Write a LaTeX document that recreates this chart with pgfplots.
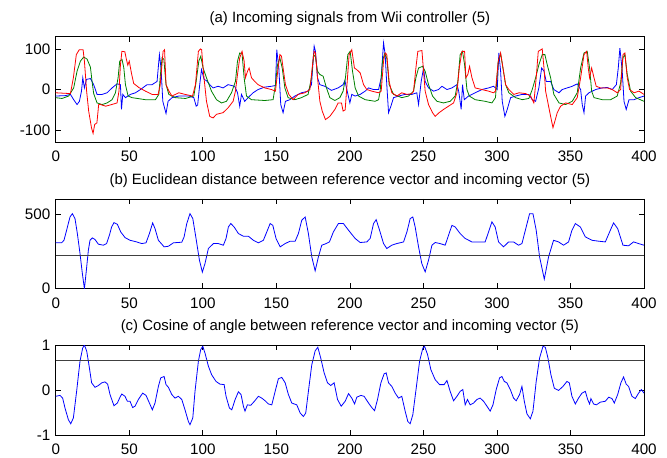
\documentclass[border=0pt]{standalone}
\usepackage{pgfplots}
\pgfplotsset{compat=1.18}
\usepackage{fontspec}
\setmainfont{Liberation Sans}
\definecolor{mblue}{rgb}{0,0,1}
\definecolor{mgreen}{rgb}{0,0.5,0}
\definecolor{mred}{rgb}{1,0,0}
\pgfplotsset{
  mstyle/.style={
    scale only axis,
    width=441.2pt,
    xmin=0, xmax=400,
    xtick={0,50,...,400},
    tick align=inside,
    tick pos=both,
    major tick length=4pt,
    axis line style={line width=0.6pt},
    every tick/.style={black, line width=0.5pt},
    font=\fontsize{11.4}{13.5}\selectfont,
    /pgf/number format/assume math mode=true,
    xticklabel style={yshift=-3.2pt},
    yticklabel style={xshift=-0.5pt},
    title style={at={(0.5,1)}, anchor=base, yshift=5pt, font=\fontsize{11.2}{13}\selectfont},
    anchor=south west,
  },
  sig/.style={line width=0.6pt, mark=none},
}
\begin{document}
\begin{tikzpicture}
\useasboundingbox (0,0) rectangle (500.25pt,342.75pt);
% Panel (a)
\begin{axis}[mstyle, at={(41.8pt,236pt)}, height=79.2pt,
  ymin=-130, ymax=130, ytick={-100,0,100}, yticklabels={-100,0,100},
  title={(a) Incoming signals from Wii controller (5)}]
\addplot[sig, mblue] coordinates {
(0,-16)(6.6,-15)(10,-12)(12.2,-25)(14.5,-37)(16.1,-29)(17.5,-4)(18.4,29)(19.5,4)(20.9,25)
(23.6,27)(25.8,12)(28.1,-12)(31.5,-12)(34.9,-8)(38.3,4)(41.7,14)(44,12)(44.7,-49)(45.6,-12)
(47.4,-20)(50.8,-12)(54.2,-8)(57.6,0)(62.1,12)(65.5,12)(68.9,20)(70.5,86)(71.6,53)(72.8,-29)
(75,-59)(76.4,-29)(79.1,-20)(83.7,-16)(90.5,-16)(93.9,-20)(95.5,-41)(96.5,-38)(97.9,12)(99.1,49)
(100.9,25)(102.5,22)(104.7,12)(107,4)(110.4,8)(113.8,4)(117.2,12)(121.7,8)(123.6,-8)(125.1,-41)
(126.3,-12)(128.5,-29)(130.8,-20)(134.2,-8)(137.6,0)(142.1,6)(146.7,8)(149.4,10)(150.3,98)(151.7,53)
(153,-37)(154.6,-57)(156.2,-29)(159.2,-25)(162.6,-16)(167.1,-8)(171.6,-4)(173.9,12)(175.7,107)(176.6,94)
(178,29)(179.6,12)(183,8)(187.5,-2)(192,4)(195.4,12)(196.6,22)(198.2,-4)(200,-33)(201.3,-12)
(203.6,-16)(207,-12)(210.4,-4)(212.7,4)(216.1,0)(219.5,0)(221.3,29)(222.9,115)(224,86)(225.1,12)
(226.3,-57)(227.9,-41)(229.7,-20)(233.1,-16)(237.6,-12)(242.2,-12)(245.5,-8)(246.7,-37)(248.5,20)(250.1,53)
(251.2,20)(253.5,4)(256.9,-4)(260.3,0)(262.6,8)(266,0)(269.4,4)(272.8,12)(274,-4)(275.7,-49)
(276.6,12)(277.8,-25)(280.7,-16)(285.2,-8)(289.8,0)(294.3,4)(297.7,8)(299,4)(300.2,0)(301.3,90)
(302.5,45)(303.6,-29)(305.4,-66)(307,-49)(309.3,-20)(312.7,-16)(317.2,-12)(321.7,-12)(324,-25)(326.3,-29)
(328.5,4)(330.4,53)(332,45)(333.5,20)(336.5,20)(338.7,0)(342.2,-8)(344.4,0)(347.8,4)(351.2,8)
(354.6,14)(356.9,0)(358,-37)(359.2,-57)(360.3,-16)(362.6,-8)(367.1,0)(371.6,4)(375,5)(378.4,0)
(381.2,12)(382.5,53)(383.6,102)(385.2,45)(386.4,-29)(387.9,-49)(389.8,-25)(393.2,-25)(396.6,-20)(400,-16)
};
\addplot[sig, mgreen] coordinates {
(0,-20)(4.3,-22)(8.8,-16)(12.2,4)(14.5,45)(16.8,70)(19,80)(21.3,75)(23.6,55)(24.7,20)
(25.8,-10)(28.1,-33)(31.5,-37)(34.9,-33)(38.3,-25)(40.6,-8)(42.4,29)(43.5,70)(45.1,74)(46.3,53)
(47.4,12)(49.2,-16)(51.9,-20)(61,-25)(67.8,-25)(70.1,-12)(71.2,37)(72.3,78)(73.5,75)(75,12)
(76.9,-12)(81.4,-20)(88.2,-22)(93.9,-16)(95.5,20)(97.3,70)(98.6,82)(100.2,53)(102.5,29)(105.9,-4)
(109.3,-25)(112.7,-33)(116.1,-29)(119.5,-8)(122.2,20)(123.6,70)(125.1,90)(126.7,88)(128.1,29)(129.7,-16)
(133.1,-25)(142.1,-27)(147.8,-25)(149.4,12)(150.8,61)(152.4,78)(154,53)(155.8,4)(158,-20)(162.6,-25)
(167.1,-20)(171.6,-12)(173.9,29)(175.3,86)(176.6,80)(178,45)(179.6,37)(181.8,33)(184.1,4)(186.4,-20)
(189.8,-27)(193.2,-20)(195.4,-4)(197,29)(198.6,86)(200.2,94)(201.8,45)(203.6,4)(205.9,-16)(210.4,-25)
(217.2,-29)(219.5,-25)(220.6,-4)(222.2,70)(223.6,88)(225.1,78)(226.7,12)(229.7,-12)(235.3,-20)(239.9,-16)
(243.3,-4)(244.9,29)(246.7,53)(249.4,57)(251.2,45)(253.5,12)(256.2,-16)(259.2,-29)(263.7,-33)(268.2,-29)
(271.6,-16)(273.4,20)(275,86)(276.6,94)(278,61)(279.6,0)(281.2,-16)(285.2,-25)(292,-29)(296.6,-33)
(299,-20)(300.9,70)(302.5,88)(304.1,53)(305.9,12)(308.1,-8)(312.7,-20)(317.2,-25)(321.7,-22)(324,0)
(326.3,29)(328.5,61)(330.8,86)(332.6,86)(334.2,61)(336.5,29)(338.7,-12)(342.2,-33)(346.7,-37)(351.2,-29)
(354.6,-8)(356.9,53)(359.2,90)(361.4,94)(363,53)(364.4,-4)(366,-20)(371.6,-25)(377.3,-25)(381.8,-16)
(384.1,16)(385.7,78)(387,86)(388.6,37)(390.9,-4)(394.3,-20)(400,-29)
};
\addplot[sig, mred] coordinates {
(0,-8)(5,-9)(10,-10)(12,29)(14,86)(16,98)(18.6,98)(19.5,70)(21,-4)(22.4,-53)
(24.3,-94)(25.4,-108)(26.5,-86)(28,-82)(29.2,-37)(30.4,-37)(34,-41)(38,-37)(41.7,-33)(43,-4)
(44,61)(45,94)(47,93)(48,75)(49,60)(50,70)(51.5,40)(53,15)(56.5,5)(61,-4)
(65.5,-12)(69.6,-12)(71,10)(73,94)(74,98)(75,12)(77,-4)(79,-16)(83.7,-8)(88,-12)
(93,-16)(95,12)(97,94)(98.4,100)(99.2,98)(100.5,40)(102.5,-29)(104.7,-66)(107,-70)(109.3,-61)
(113.8,-57)(117.2,-45)(120.6,-29)(122.2,-4)(123.6,37)(125.1,78)(126.7,94)(128.1,70)(129,29)(130.4,45)
(131.5,53)(133.1,29)(135.3,20)(137.6,12)(142.1,4)(146.7,0)(149.4,-4)(151.2,53)(152.4,86)(153.5,82)
(154.6,53)(156.2,12)(158.5,-12)(161.4,-25)(164.8,-12)(169.4,-8)(172.8,0)(174.4,53)(175.7,94)(176.6,90)
(178,29)(179.6,-29)(181.2,-53)(183.4,-74)(186.4,-66)(189.8,-49)(192,-33)(194.3,-33)(195.4,-53)(196.8,-50)
(198.2,20)(199.5,86)(201.3,98)(203.1,53)(204.7,49)(207,41)(209.3,12)(211.5,0)(215,-4)(219.5,-8)
(221.3,-4)(222.9,70)(224,90)(225.1,86)(226.7,20)(228.5,-8)(232,-16)(235.3,-8)(238.7,-12)(242.2,-10)
(243.3,-4)(244.9,53)(246.2,94)(249,96)(250.1,45)(251.2,-4)(253.5,-37)(256.2,-57)(258,-66)(260.7,-57)
(263.7,-49)(267.1,-41)(270.5,-33)(272.8,-8)(274.4,53)(276.2,94)(278,94)(278.9,29)(280.2,37)(281.4,57)
(283,29)(285.2,4)(289.8,0)(294.3,-4)(297.7,-8)(299,-4)(300.9,70)(302.5,90)(304.1,53)(305.9,12)
(308.1,0)(311.5,-12)(315,-8)(319.5,-10)(322.9,-16)(325.1,-33)(326.7,29)(328.1,94)(330.8,100)(332,53)
(333.1,-4)(334.9,-37)(336.5,-66)(338.1,-94)(339.4,-78)(341,-57)(343.3,-41)(346.7,-33)(351.2,-37)(354.6,-20)
(356.9,29)(359.2,86)(361,94)(362.1,53)(363,29)(364.4,53)(366,29)(367.5,8)(370.5,4)(375,4)
(378.4,0)(381.8,-8)(384.1,0)(385.7,86)(387,90)(388.6,29)(390.2,0)(393.2,-8)(396.6,-4)(400,-12)
};
\end{axis}
% Panel (b)
\begin{axis}[mstyle, at={(41.8pt,126.2pt)}, height=67.3pt,
  ymin=0, ymax=600, ytick={0,500}, yticklabels={0,500},
  title={(b) Euclidean distance between reference vector and incoming vector (5)}]
\addplot[sig, mblue] coordinates {
(0,307)(4,307)(5.6,324)(7.4,391)(9.7,480)(11.3,502)(13.1,469)(14.7,369)(16.5,236)(18.1,102)
(19.5,0)(20.6,102)(22.2,258)(23.3,324)(24.9,340)(26.7,329)(29,298)(32.4,291)(34.6,302)(36.5,358)
(38,413)(39.6,442)(41.9,431)(44.2,380)(47.1,342)(50.5,324)(55,313)(58.5,302)(61.4,307)(63.7,369)
(65.9,440)(67.5,402)(69.8,324)(73.7,280)(76.6,284)(80,307)(85.7,311)(87.3,347)(89.1,436)(91.3,502)
(93.2,469)(95.4,336)(97.7,191)(99.7,111)(101.5,169)(103.8,269)(107.2,302)(110.6,302)(114,291)(115.8,336)
(117.4,413)(119,436)(121.3,413)(124.2,369)(127.6,351)(131,351)(134.4,324)(137.8,307)(141.2,324)(143.5,380)
(145.8,436)(147.6,424)(149.8,336)(152.6,280)(156,302)(159.4,318)(162.8,318)(165,369)(167.3,458)(169.6,480)
(171.8,369)(174.1,213)(176.4,120)(178.6,213)(180.9,291)(183.9,302)(186.1,313)(188.8,380)(192.2,436)(195.6,436)
(199.1,391)(203.6,336)(207,309)(211.5,313)(213.8,336)(216.1,436)(217.9,462)(220.2,391)(222.9,302)(225.1,269)
(228.5,291)(231.9,302)(236.5,313)(238.8,380)(241,469)(242.8,480)(244.4,413)(246.7,280)(248.9,169)(251.2,113)
(253.5,191)(255.8,291)(258,309)(261.4,302)(264.8,291)(267.1,358)(269.4,424)(271.6,413)(275,369)(278.4,336)
(283,313)(287.5,313)(292,313)(294.3,380)(296.6,447)(298.8,413)(301.1,313)(304.5,280)(307.9,313)(311.3,313)
(314.7,291)(317,302)(319.9,413)(322.2,502)(324.5,502)(326.7,391)(329,213)(332.2,64)(335.1,213)(338.5,324)
(341.9,313)(345.3,291)(348.7,313)(351,391)(353.3,436)(356.7,413)(360.1,347)(364.6,324)(369.1,318)(373.7,313)
(377.1,391)(379.3,440)(382.1,402)(385.7,291)(389.5,287)(392.9,313)(396.3,302)(400,291)
};
\addplot[line width=0.6pt, black!75] coordinates {(0,220)(400,220)};
\end{axis}
% Panel (c)
\begin{axis}[mstyle, at={(41.8pt,16.5pt)}, height=67.5pt,
  ymin=-1, ymax=1, ytick={-1,0,1}, yticklabels={-1,0,1},
  title={(c) Cosine of angle between reference vector and incoming vector (5)}]
\addplot[sig, mblue] coordinates {
(0,-0.14)(2.9,-0.12)(4.7,-0.18)(6.3,-0.4)(8.6,-0.66)(10.2,-0.75)(12,-0.62)(14.2,-0.03)(16.5,0.64)(18.3,0.93)
(19.5,1.0)(21.1,0.86)(22.9,0.49)(24.4,0.16)(26.7,0.06)(29,0.1)(31.3,0.16)(33.5,0.18)(35.3,0.13)(36.9,-0.1)
(39.6,-0.35)(41.9,-0.29)(43.7,-0.16)(44.9,-0.09)(47.1,-0.14)(48.7,-0.25)(50.5,-0.25)(52.3,-0.39)(53.9,-0.36)(56.2,-0.21)
(59.1,-0.07)(61.4,-0.12)(63.7,-0.29)(65.7,-0.44)(67.5,-0.29)(69.8,0.08)(71.4,0.27)(73.7,0.3)(75,0.12)(76.6,0.06)
(78.9,-0.1)(81.1,-0.18)(83.4,-0.14)(85.7,-0.21)(87.9,-0.44)(90.2,-0.7)(91.3,-0.77)(93.2,-0.62)(94.7,-0.03)(97,0.64)
(98.6,0.9)(100,0.97)(101.5,0.82)(103.8,0.53)(106,0.34)(109,0.19)(111.7,0.13)(114.5,0.12)(115.8,-0.14)(118.1,-0.4)
(119.7,-0.44)(122,-0.21)(124.2,-0.04)(126,-0.1)(127.6,-0.36)(128.7,-0.47)(130.3,-0.33)(132.6,-0.34)(135.1,-0.25)(137.8,-0.14)
(140.1,-0.18)(142.4,-0.24)(144.6,-0.31)(146.9,-0.33)(149.2,-0.03)(151.4,0.25)(153.7,0.28)(156,0.16)(158.2,-0.1)(160.5,-0.29)
(163.9,-0.33)(166.2,-0.51)(168.4,-0.59)(170,-0.51)(171.8,-0.03)(174.1,0.56)(176.4,0.87)(178.2,0.95)(180.2,0.71)(182.5,0.38)
(184.8,0.16)(187,0.1)(189.3,0.16)(191.6,-0.21)(194.1,-0.36)(196.8,-0.25)(199.1,-0.08)(201.3,-0.18)(203.2,-0.31)(204.7,-0.16)
(207.5,-0.12)(209.7,-0.14)(212.7,-0.29)(214.9,-0.39)(216.8,-0.46)(218.8,-0.21)(221.1,0.16)(223.3,0.36)(224.7,0.38)(226.3,0.16)
(228.5,0.08)(230.8,-0.07)(233.1,-0.18)(235.3,-0.14)(237.6,-0.47)(239.4,-0.7)(241,-0.75)(242.8,-0.55)(245.1,0.04)(247.4,0.64)
(249.6,0.93)(250.8,0.97)(252.8,0.79)(255.1,0.45)(258,0.23)(261,0.12)(264.1,0.12)(266,0.21)(268.2,-0.03)(270.5,-0.24)
(272.8,-0.14)(275,-0.03)(276.8,0.01)(278.4,-0.33)(280,-0.21)(281.8,-0.33)(284.1,-0.29)(286.4,-0.21)(288.6,-0.18)(290.9,-0.25)
(293.2,-0.36)(295.4,-0.47)(297.3,-0.33)(299.5,0.01)(301.8,0.27)(303.4,0.3)(305,0.19)(306.8,0.16)(309.1,0.01)(311.3,-0.18)
(313.1,-0.24)(315.4,-0.1)(317,0.08)(318.6,-0.25)(320.4,-0.53)(322.7,-0.64)(324.5,-0.47)(326.7,0.19)(329,0.71)(331.3,0.97)
(332.9,0.95)(334.7,0.71)(336.7,0.34)(339,0.04)(341.9,-0.01)(344.9,0.08)(347.6,0.19)(349.2,0.16)(351,-0.14)(353.3,-0.31)
(355.5,-0.18)(357.8,-0.07)(360.1,-0.03)(361.7,-0.21)(363,-0.31)(363.9,-0.19)(365.7,-0.31)(367.6,-0.33)(370.3,-0.27)(373.7,-0.25)
(376,-0.16)(378.2,-0.19)(379.8,-0.29)(382.1,-0.1)(384.3,0.16)(386.1,0.29)(387.9,0.13)(389.5,0.08)(391.8,-0.14)(394.1,-0.19)
(396.3,-0.07)(398.2,0.01)(400,-0.07)
};
\addplot[line width=0.6pt, black!75] coordinates {(0,0.65)(400,0.65)};
\end{axis}
\end{tikzpicture}
\end{document}
